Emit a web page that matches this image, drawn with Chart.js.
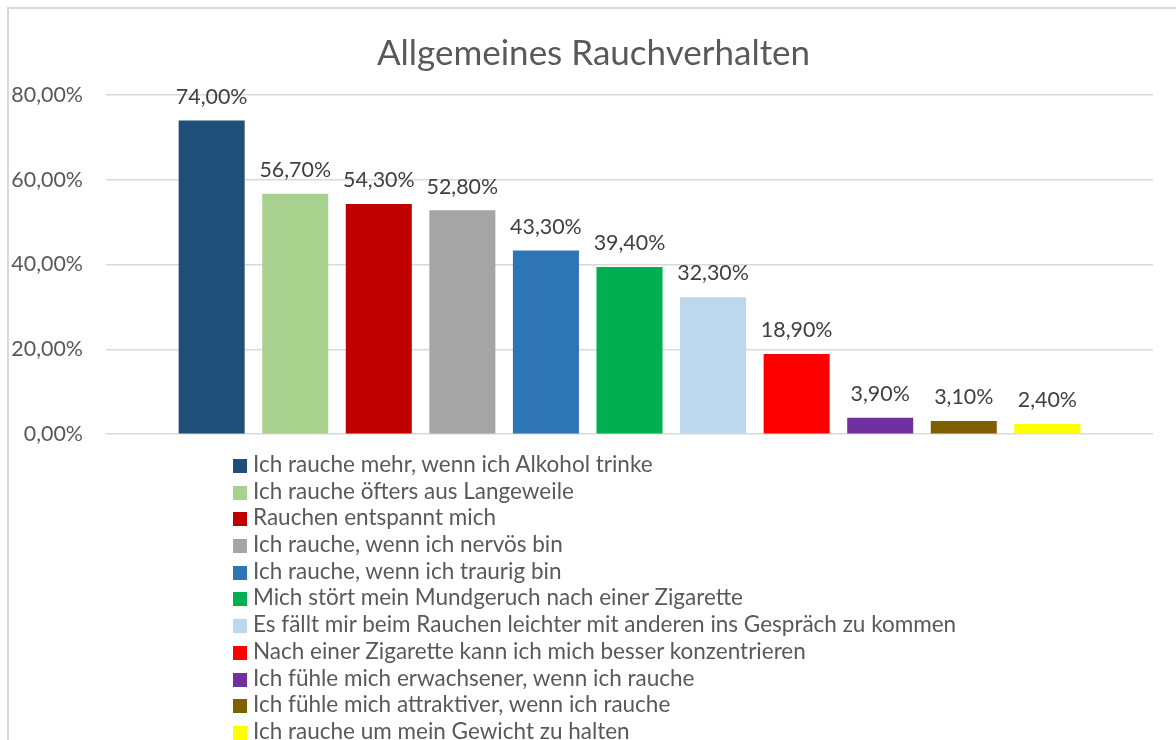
<!DOCTYPE html>
<html>
  <head>
    <meta charset="UTF-8"/>
    <title>Allgemeines Rauchverhalten</title>
    <script src="https://cdn.jsdelivr.net/npm/chart.js@4/dist/chart.umd.min.js"></script>
    <style>
     html, body {
       margin: 0;
       padding: 0;
       background: #fff;
       overflow: hidden;
     }
     #frame {
       position: absolute;
       left: 7px;
       top: 7px;
       width: 1300px;
       height: 900px;
       border-left: 2px solid #d9d9d9;
       border-top: 2px solid #d9d9d9;
     }
     #wrap {
       position: absolute;
       left: 0;
       top: 0;
       width: 1176px;
       height: 470px;
     }
     #legend {
       position: absolute;
       left: 233px;
       top: 451px;
       margin: 0;
       padding: 0;
       list-style: none;
       font-family: Lato, sans-serif;
       font-size: 22.5px;
       color: #595959;
     }
     #legend li {
       height: 26.7px;
       line-height: 26.7px;
       white-space: nowrap;
     }
     #legend span.box {
       display: inline-block;
       width: 14px;
       height: 14px;
       margin-right: 6px;
       vertical-align: -1px;
     }
    </style>
  </head>
  <body>
    <div id="frame"></div>
    <div id="wrap">
      <canvas id="chart-rauchen" width="1176" height="470"></canvas>
    </div>
    <ul id="legend"></ul>

    <script>
     // Werte aus der Vorlage
     var aussagen = [
         "Ich rauche mehr, wenn ich Alkohol trinke",
         "Ich rauche öfters aus Langeweile",
         "Rauchen entspannt mich",
         "Ich rauche, wenn ich nervös bin",
         "Ich rauche, wenn ich traurig bin",
         "Mich stört mein Mundgeruch nach einer Zigarette",
         "Es fällt mir beim Rauchen leichter mit anderen ins Gespräch zu kommen",
         "Nach einer Zigarette kann ich mich besser konzentrieren",
         "Ich fühle mich erwachsener, wenn ich rauche",
         "Ich fühle mich attraktiver, wenn ich rauche",
         "Ich rauche um mein Gewicht zu halten"
     ];
     var anteile = [74.0, 56.7, 54.3, 52.8, 43.3, 39.4, 32.3, 18.9, 3.9, 3.1, 2.4];
     var farben = [
         "#1F4E79", "#A9D18E", "#C00000", "#A5A5A5", "#2E75B6", "#00B050",
         "#BDD7EE", "#FF0000", "#7030A0", "#7F6000", "#FFFF00"
     ];
     var yTicks = [0, 20, 40, 60, 80];

     function prozent(v){
         return v.toFixed(2).replace(".", ",") + "%";
     }

     var datasets = aussagen.map(function(name, i){
         return {
             label: name,
             data: [anteile[i]],
             backgroundColor: farben[i],
             borderWidth: 0,
             categoryPercentage: 0.878,
             barPercentage: 0.79
         };
     });

     var wertLabels = {
         id: "wertLabels",
         afterDatasetsDraw: function(chart){
             var ctx = chart.ctx;
             ctx.save();
             ctx.font = "21.4px Lato, sans-serif";
             ctx.fillStyle = "#404040";
             ctx.textAlign = "center";
             ctx.textBaseline = "bottom";
             chart.data.datasets.forEach(function(ds, i){
                 var bar = chart.getDatasetMeta(i).data[0];
                 ctx.fillText(prozent(ds.data[0]), bar.x, bar.y - 13);
             });
             ctx.restore();
         }
     };

     // Titel etwas nach rechts, wie in Excel
     var titelVersatz = {
         id: "titelVersatz",
         afterLayout: function(chart){
             if (chart.titleBlock) chart.titleBlock.left += 24;
         }
     };

     var chart = new Chart("chart-rauchen", {
         type: "bar",
         data: {
             labels: [""],
             datasets: datasets
         },
         plugins: [wertLabels, titelVersatz],
         options: {
             responsive: false,
             animation: false,
             layout: {
                 padding: { left: 10, right: 23, top: 33, bottom: 5 }
             },
             plugins: {
                 legend: { display: false },
                 tooltip: { enabled: false },
                 title: {
                     display: true,
                     text: "Allgemeines Rauchverhalten",
                     color: "#595959",
                     font: { family: "Lato, sans-serif", size: 35, weight: "normal" },
                     padding: { top: 0, bottom: 20 }
                 }
             },
             scales: {
                 x: {
                     display: false
                 },
                 y: {
                     min: 0,
                     max: 80,
                     afterBuildTicks: function(scale){
                         scale.ticks = yTicks.map(v => ({ value: v }));
                     },
                     afterFit: function(scale){
                         scale.width = 96;
                     },
                     border: { display: false },
                     grid: {
                         color: "#d9d9d9",
                         lineWidth: 1.5,
                         drawTicks: false
                     },
                     ticks: {
                         padding: 23,
                         color: "#595959",
                         font: { family: "Lato, sans-serif", size: 21.4 },
                         callback: function(v){ return prozent(v); }
                     }
                 }
             }
         }
     });

     // Legende als Liste, eine Zeile pro Aussage
     var ul = document.getElementById("legend");
     aussagen.forEach(function(name, i){
         var li = document.createElement("li");
         var box = document.createElement("span");
         box.className = "box";
         box.style.background = farben[i];
         li.appendChild(box);
         li.appendChild(document.createTextNode(name));
         ul.appendChild(li);
     });
    </script>
  </body>
</html>
